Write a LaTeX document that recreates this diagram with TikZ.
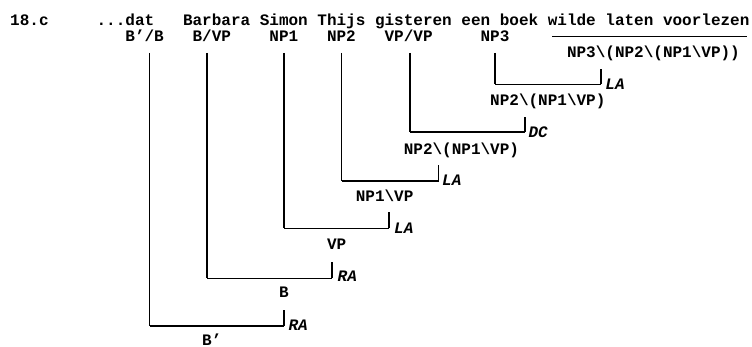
\documentclass[tikz,border=0pt]{standalone}
\usepackage{fontspec}
\newfontfamily\courfont{Liberation Mono}
\newcommand\bsl{\textbackslash}
\tikzset{
  txt/.style={font=\courfont\bfseries\fontsize{16}{16}\selectfont, inner sep=0pt, anchor=base west},
  rl/.style={font=\courfont\bfseries\itshape\fontsize{16}{16}\selectfont, inner sep=0pt, anchor=base west},
  vln/.style={line width=1.8pt, line cap=butt},
  hln/.style={line width=1.2pt, line cap=butt},
}
\begin{document}
\begin{tikzpicture}[x=1pt,y=-1pt]
\useasboundingbox (0,0) rectangle (752,347);
% sentence row
\node[txt] (ex)   at (10,26)    {18.c};
\node[txt] (w0)   at (96.4,26)  {...dat};
\node[txt] (w1)   at (182.8,26) {Barbara};
\node[txt] (w2)   at (259.6,26) {Simon};
\node[txt] (w3)   at (317.2,26) {Thijs};
\node[txt] (w4)   at (374.8,26) {gisteren};
\node[txt] (w5)   at (461.2,26) {een};
\node[txt] (w6)   at (499.6,26) {boek};
\node[txt] (w7)   at (547.6,26) {wilde};
\node[txt] (w8)   at (605.2,26) {laten};
\node[txt] (w9)   at (662.8,26) {voorlezen};
% category row
\node[txt] (c1) at (125.2,42) {B’/B};
\node[txt] (c2) at (192.4,42) {B/VP};
\node[txt] (c3) at (269.2,42) {NP1};
\node[txt] (c4) at (326.8,42) {NP2};
\node[txt] (c5) at (384.4,42) {VP/VP};
\node[txt] (c6) at (480.4,42) {NP3};
% rule over complex verb
\coordinate (ruleL) at (552,36.5);
\coordinate (ruleR) at (747,36.5);
\draw[hln] (ruleL) -- (ruleR);
\node[txt] (c7) at (566.8,58) {NP3\bsl(NP2\bsl(NP1\bsl VP))};
% derived categories
\node[txt] (d1) at (490,106)   {NP2\bsl(NP1\bsl VP)};
\node[txt] (d2) at (403.6,154.5) {NP2\bsl(NP1\bsl VP)};
\node[txt] (d3) at (355.6,202) {NP1\bsl VP};
\node[txt] (d4) at (326.8,250) {VP};
\node[txt] (d5) at (278.8,298) {B};
\node[txt] (d6) at (202,345)   {B’};
% rule labels
\node[rl] (r1) at (605.2,90)  {LA};
\node[rl] (r2) at (528.4,138) {DC};
\node[rl] (r3) at (442,186)   {LA};
\node[rl] (r4) at (394,234)   {LA};
\node[rl] (r5) at (337.5,282) {RA};
\node[rl] (r6) at (288.4,330) {RA};
% bracket coordinates
\coordinate (t6) at (495.2,53);  \coordinate (k6) at (495.2,84.3);  \coordinate (e6) at (601,84.3);  \coordinate (u6) at (601,69);
\coordinate (t5) at (409.8,53);  \coordinate (k5) at (409.8,132);   \coordinate (e5) at (524.8,132);  \coordinate (u5) at (524.8,117);
\coordinate (t4) at (341.5,53);  \coordinate (k4) at (341.5,181);   \coordinate (e4) at (438.5,181);  \coordinate (u4) at (438.5,165);
\coordinate (t3) at (284.3,53);  \coordinate (k3) at (284.3,228.5); \coordinate (e3) at (389,228.5);  \coordinate (u3) at (389,212.5);
\coordinate (t2) at (207,53);    \coordinate (k2) at (207,278.3);   \coordinate (e2) at (332.2,278.3);\coordinate (u2) at (332.2,262);
\coordinate (t1) at (149.5,53);  \coordinate (k1) at (149.5,326);   \coordinate (e1) at (284.3,326);  \coordinate (u1) at (284.3,310);
\foreach \i in {1,...,6}{
  \draw[vln] (t\i) -- (k\i);
  \draw[hln] (k\i) -- (e\i);
  \draw[vln] (e\i) -- (u\i);
}
\end{tikzpicture}
\end{document}
